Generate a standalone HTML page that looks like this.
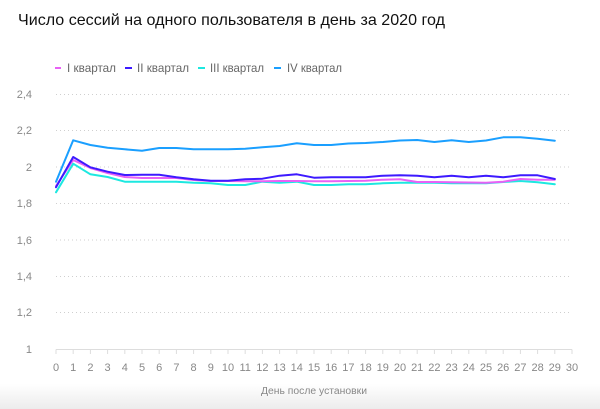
<!DOCTYPE html>
<html><head><meta charset="utf-8"><style>
html,body{margin:0;padding:0;background:#fff;}
body{width:600px;height:409px;overflow:hidden;position:relative;}
.grad{position:absolute;left:0;top:384px;width:600px;height:25px;background:linear-gradient(#fff,#ececec);}
svg{position:absolute;left:0;top:0;}
</style></head><body>
<div class="grad"></div>
<svg width="600" height="409" viewBox="0 0 600 409" font-family="Liberation Sans, DejaVu Sans, sans-serif">
<text x="18" y="25" font-size="16" fill="#111" textLength="427" lengthAdjust="spacingAndGlyphs">Число сессий на одного пользователя в день за 2020 год</text>
<g font-size="12" fill="#666">
<rect x="55" y="67" width="6" height="2" fill="#e861f5"/>
<text x="67" y="72" textLength="49" lengthAdjust="spacingAndGlyphs">I квартал</text>
<rect x="125" y="67" width="7" height="2" fill="#3d1aff"/>
<text x="137" y="72" textLength="52" lengthAdjust="spacingAndGlyphs">II квартал</text>
<rect x="198" y="67" width="7" height="2" fill="#1de8e0"/>
<text x="210" y="72" textLength="54" lengthAdjust="spacingAndGlyphs">III квартал</text>
<rect x="274" y="67" width="7" height="2" fill="#1a9fff"/>
<text x="287" y="72" textLength="55" lengthAdjust="spacingAndGlyphs">IV квартал</text>
</g>
<g stroke="#cfcfcf" stroke-width="1" stroke-dasharray="1 3">
<line x1="56" y1="94.5" x2="572" y2="94.5"/>
<line x1="56" y1="130.5" x2="572" y2="130.5"/>
<line x1="56" y1="167" x2="572" y2="167"/>
<line x1="56" y1="203.5" x2="572" y2="203.5"/>
<line x1="56" y1="240" x2="572" y2="240"/>
<line x1="56" y1="276.5" x2="572" y2="276.5"/>
<line x1="56" y1="312.5" x2="572" y2="312.5"/>
</g>
<g font-size="11" fill="#888" text-anchor="end">
<text x="32" y="98">2,4</text>
<text x="32" y="134">2,2</text>
<text x="32" y="171">2</text>
<text x="32" y="207">1,8</text>
<text x="32" y="244">1,6</text>
<text x="32" y="280">1,4</text>
<text x="32" y="316">1,2</text>
<text x="32" y="353">1</text>
</g>
<line x1="56" y1="349.5" x2="572" y2="349.5" stroke="#ddd" stroke-width="1"/>
<g id="ticks" stroke="#ddd" stroke-width="1"></g>
<g id="xl" font-size="11" fill="#888" text-anchor="middle"></g>
<text x="314" y="394" font-size="10" fill="#888" text-anchor="middle" textLength="106" lengthAdjust="spacingAndGlyphs">День после установки</text>
<g fill="none" stroke-width="2" stroke-linejoin="round" stroke-linecap="round">
<polyline id="p3" stroke="#1de8e0"/>
<polyline id="p1" stroke="#e861f5"/>
<polyline id="p2" stroke="#3d1aff"/>
<polyline id="p4" stroke="#1a9fff"/>
</g>
</svg>
<script>
var ns="http://www.w3.org/2000/svg";
var t=document.getElementById("ticks"),xl=document.getElementById("xl");
function X(d){return 56+d*17.2;}
for(var d=0;d<=30;d++){
 var l=document.createElementNS(ns,"line");
 l.setAttribute("x1",X(d));l.setAttribute("x2",X(d));l.setAttribute("y1",349.5);l.setAttribute("y2",354);
 t.appendChild(l);
 var tx=document.createElementNS(ns,"text");
 tx.setAttribute("x",X(d));tx.setAttribute("y",371);tx.textContent=d;xl.appendChild(tx);
}
var s={
p4:[181.7,140.3,145,147.7,149.3,150.7,148,148,149.3,149.3,149.3,148.7,147.3,146,143.3,145,145,143.5,143,142,140.5,140,142,140.3,142,140.5,137.3,137.3,138.7,140.7],
p2:[187.3,157,167.3,171.7,175,174.7,174.7,177.3,179.3,180.7,180.7,179.3,178.7,175.7,174.3,177.7,177.3,177.3,177.3,175.7,175.3,175.7,177.3,175.7,177.3,175.7,177.3,175.3,175.3,179],
p1:[186,160,168,173,177,178,178,178,180,181,181,181.3,181.3,181,181,181.3,181.3,181,180.7,179.7,179.3,182,182,182.3,182.5,182.7,181.7,179,179.7,179.7],
p3:[192.3,163.7,174.3,177,181.7,181.7,181.7,181.7,182.7,183.3,185,185,181.7,182.7,181.7,185,185,184.3,184.3,183.3,182.7,182.7,182.7,183.3,183.3,183.3,182,181,182.3,184.3]
};
for(var k in s){var a=s[k].map(function(y,i){return X(i).toFixed(1)+","+y;}).join(" ");document.getElementById(k).setAttribute("points",a);}
</script>
</body></html>
